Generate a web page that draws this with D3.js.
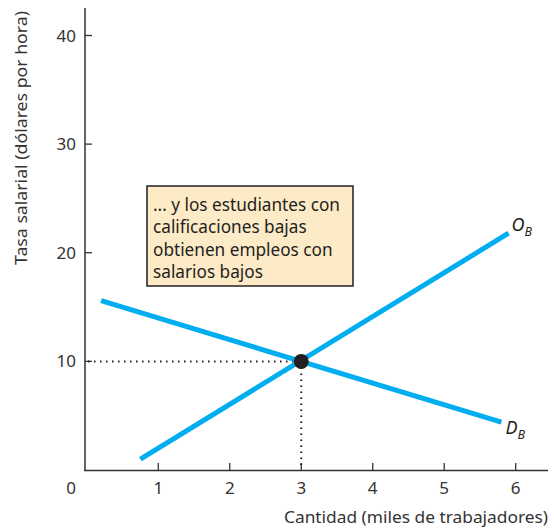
<!DOCTYPE html>
<html><head><meta charset="utf-8">
<script src="https://cdn.jsdelivr.net/npm/d3@7"></script>
<style>body{margin:0;background:#fff}svg{display:block}</style>
</head><body>
<script>
const xTicks = [1, 2, 3, 4, 5, 6];
const yTicks = [10, 20, 30, 40];
const supplyPts = [[0.75, 1.0], [5.9, 21.8]];
const demandPts = [[0.2, 15.6], [5.8, 4.4]];
const equilibrium = [3, 10];
const noteLines = ["... y los estudiantes con", "calificaciones bajas", "obtienen empleos con", "salarios bajos"];
const xTitle = "Cantidad (miles de trabajadores)";
const yTitle = "Tasa salarial (dólares por hora)";

const W = 554, H = 528;
const font = "'Noto Sans', sans-serif";
const svg = d3.select("body").append("svg").attr("width", W).attr("height", H);
const x = d3.scaleLinear().domain([0, 6]).range([86.8, 515.7]);
const y = d3.scaleLinear().domain([0, 40]).range([470, 35.5]);
const ax = "#333";

// axes lines
svg.append("line").attr("x1", 85).attr("x2", 85).attr("y1", 8).attr("y2", 471).attr("stroke", ax).attr("stroke-width", 1.5);
svg.append("line").attr("x1", 84).attr("x2", 548).attr("y1", 470.5).attr("y2", 470.5).attr("stroke", ax).attr("stroke-width", 1.5);

// ticks
svg.selectAll(".xt").data(xTicks).join("line").attr("x1", d => x(d)).attr("x2", d => x(d))
  .attr("y1", 470).attr("y2", 463).attr("stroke", ax).attr("stroke-width", 1.3);
svg.selectAll(".yt").data(yTicks).join("line").attr("y1", d => y(d)).attr("y2", d => y(d))
  .attr("x1", 85).attr("x2", 92).attr("stroke", ax).attr("stroke-width", 1.3);

svg.selectAll(".xl").data(xTicks).join("text").attr("x", d => x(d)).attr("y", 494)
  .attr("text-anchor", "middle").attr("font-family", font).attr("font-size", 17).attr("fill", "#333").text(d => d);
svg.selectAll(".yl").data(yTicks).join("text").attr("x", 76).attr("y", d => y(d) + 6)
  .attr("text-anchor", "end").attr("font-family", font).attr("font-size", 17).attr("fill", "#333").text(d => d);
svg.append("text").attr("x", 76).attr("y", 494).attr("text-anchor", "end").attr("font-family", font)
  .attr("font-size", 17).attr("fill", "#333").text("0");

// titles
svg.append("text").attr("x", 548).attr("y", 523).attr("text-anchor", "end").attr("font-family", font)
  .attr("font-size", 16.5).attr("fill", "#333").attr("textLength", 264).attr("lengthAdjust", "spacingAndGlyphs").text(xTitle);
svg.append("text").attr("transform", "translate(27,138) rotate(-90)").attr("text-anchor", "middle")
  .attr("font-family", font).attr("font-size", 16.5).attr("fill", "#333").attr("textLength", 254)
  .attr("lengthAdjust", "spacingAndGlyphs").text(yTitle);

// dotted guides
const dot = {stroke: "#231f20", "stroke-width": 2, "stroke-dasharray": "1.5 4.5"};
const g1 = svg.append("line").attr("x1", 88).attr("x2", x(equilibrium[0])).attr("y1", y(equilibrium[1])).attr("y2", y(equilibrium[1]));
const g2 = svg.append("line").attr("x1", x(equilibrium[0])).attr("x2", x(equilibrium[0])).attr("y1", y(equilibrium[1])).attr("y2", 468);
[g1, g2].forEach(g => Object.entries(dot).forEach(([k, v]) => g.attr(k, v)));

// curves
const line = d3.line().x(d => x(d[0])).y(d => y(d[1]));
svg.append("path").attr("d", line(demandPts)).attr("stroke", "#00aeef").attr("stroke-width", 5).attr("fill", "none");
svg.append("path").attr("d", line(supplyPts)).attr("stroke", "#00aeef").attr("stroke-width", 5).attr("fill", "none");

svg.append("circle").attr("cx", x(equilibrium[0])).attr("cy", y(equilibrium[1])).attr("r", 7.5).attr("fill", "#231f20");

// curve labels
function lab(px, py, main, sub) {
  const t = svg.append("text").attr("x", px).attr("y", py).attr("font-family", font).attr("font-style", "italic")
    .attr("font-size", 18).attr("fill", "#231f20");
  t.append("tspan").text(main);
  t.append("tspan").attr("font-size", 12.5).attr("dy", 5).text(sub);
}
lab(x(supplyPts[1][0]) + 3, y(supplyPts[1][1]) - 2, "O", "B");
lab(x(demandPts[1][0]) + 4, y(demandPts[1][1]) + 12, "D", "B");

// note box
svg.append("rect").attr("x", 147).attr("y", 186).attr("width", 206).attr("height", 100)
  .attr("fill", "#fdeac6").attr("stroke", "#231f20").attr("stroke-width", 1.5);
svg.selectAll(".nt").data(noteLines).join("text").attr("x", 153).attr("y", (d, i) => 211 + i * 22.3)
  .attr("font-family", font).attr("font-size", 17.2).attr("fill", "#231f20").text(d => d);
</script>
</body></html>
